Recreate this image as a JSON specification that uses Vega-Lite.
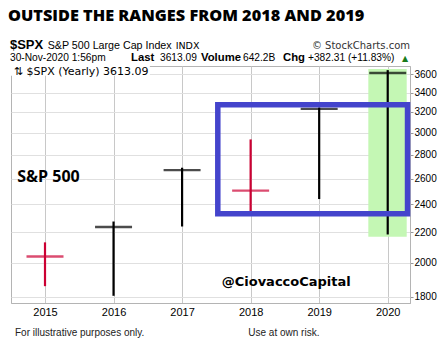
{
  "$schema": "https://vega.github.io/schema/vega-lite/v6.json",
  "width": 399,
  "height": 237,
  "autosize": "none",
  "padding": {"left": 11, "top": 66, "right": 37, "bottom": 40},
  "background": "white",
  "config": {
    "view": {"stroke": "#b4b4b4", "strokeWidth": 1},
    "font": "Liberation Sans"
  },
  "title": {
    "text": "OUTSIDE THE RANGES FROM 2018 AND 2019",
    "anchor": "start",
    "frame": "group",
    "font": "Open Sans",
    "fontWeight": 800,
    "fontSize": 16.3,
    "color": "#000000",
    "baseline": "alphabetic",
    "offset": 2,
    "dx": -3
  },
  "datasets": {
    "candles": [
      {"year": 2015, "open": 2058.9, "high": 2132, "low": 1860, "close": 2040},
      {"year": 2016, "open": 2038.2, "high": 2275, "low": 1805, "close": 2236},
      {"year": 2017, "open": 2251.6, "high": 2690, "low": 2240, "close": 2670},
      {"year": 2018, "open": 2683.7, "high": 2938, "low": 2346, "close": 2505},
      {"year": 2019, "open": 2477.0, "high": 3245, "low": 2440, "close": 3231},
      {"year": 2020, "open": 3244.7, "high": 3646, "low": 2185, "close": 3613}
    ]
  },
  "layer": [
    {
      "data": {"values": [{"year": 2019.717, "year2": 2020.277, "low": 2170, "high": 3659}]},
      "mark": {"type": "rect", "fill": "#c4f7b4", "stroke": null},
      "encoding": {
        "x": {"field": "year", "type": "quantitative", "scale": {"domain": [2014.504, 2020.325], "nice": false, "zero": false},
          "axis": {"values": [2015, 2016, 2017, 2018, 2019, 2020], "format": "d", "title": null, "labelFontSize": 11, "labelColor": "#000000", "labelFont": "Liberation Sans", "gridColor": "#c8c8c8", "ticks": false, "domainColor": "#b4b4b4", "labelPadding": 3}},
        "x2": {"field": "year2"},
        "y": {"field": "low", "type": "quantitative", "scale": {"type": "log", "domain": [1765, 3693], "nice": false, "zero": false},
          "axis": {"orient": "right", "values": [1800, 2000, 2200, 2400, 2600, 2800, 3000, 3200, 3400, 3600], "format": "d", "title": null, "labelFontSize": 10, "labelColor": "#000000", "labelFont": "Liberation Sans", "gridColor": "#e0e0e0", "tickColor": "#999999", "tickSize": 3, "domainColor": "#b4b4b4", "labelPadding": 1}},
        "y2": {"field": "high"}
      }
    },
    {
      "data": {"values": [{"year": 2014.504, "year2": 2016.53, "low": 3582, "high": 3693}]},
      "mark": {"type": "rect", "fill": "white"},
      "encoding": {
        "x": {"field": "year", "type": "quantitative"},
        "x2": {"field": "year2"},
        "y": {"field": "low", "type": "quantitative"},
        "y2": {"field": "high"}
      }
    },
    {
      "data": {"name": "candles"},
      "mark": {"type": "rule", "strokeWidth": 2.2},
      "encoding": {
        "x": {"field": "year", "type": "quantitative"},
        "y": {"field": "low", "type": "quantitative"},
        "y2": {"field": "high"},
        "color": {"condition": {"test": "datum.close < datum.open", "value": "#cc0033"}, "value": "#000000"}
      }
    },
    {
      "data": {"name": "candles"},
      "mark": {"type": "tick", "orient": "horizontal", "size": 37, "thickness": 2.4},
      "encoding": {
        "x": {"field": "year", "type": "quantitative"},
        "y": {"field": "close", "type": "quantitative"},
        "color": {"condition": {"test": "datum.close < datum.open", "value": "#cc0033"}, "value": "#000000"}
      }
    },
    {
      "data": {"values": [{"year": 2017.521, "year2": 2020.289, "low": 2331, "high": 3274}]},
      "mark": {"type": "rect", "fill": null, "filled": false, "stroke": "#4444cc", "strokeWidth": 5.5},
      "encoding": {
        "x": {"field": "year", "type": "quantitative"},
        "x2": {"field": "year2"},
        "y": {"field": "low", "type": "quantitative"},
        "y2": {"field": "high"}
      }
    },
    {
      "data": {"values": [
        {"label": "S&P 500 Large Cap Index", "year": 2015.039, "value": 3894}
      ]},
      "mark": {"type": "text", "align": "left", "baseline": "alphabetic", "font": "Liberation Sans", "fontSize": 10.7, "color": "#000000", "clip": false},
      "encoding": {
        "x": {"field": "year", "type": "quantitative"},
        "y": {"field": "value", "type": "quantitative"},
        "text": {"field": "label"}
      }
    },
    {
      "data": {"values": [
        {"label": "30-Nov-2020 1:56pm", "year": 2014.489, "value": 3751},
        {"label": "3613.09", "year": 2016.678, "value": 3751},
        {"label": "642.2B", "year": 2017.889, "value": 3751},
        {"label": "+382.31 (+11.83%)", "year": 2018.837, "value": 3751}
      ]},
      "mark": {"type": "text", "align": "left", "baseline": "alphabetic", "font": "Liberation Sans", "fontSize": 10.2, "color": "#000000", "clip": false},
      "encoding": {
        "x": {"field": "year", "type": "quantitative"},
        "y": {"field": "value", "type": "quantitative"},
        "text": {"field": "label"}
      }
    },
    {
      "data": {"values": [
        {"label": "Last", "year": 2016.255, "value": 3751},
        {"label": "Volume", "year": 2017.276, "value": 3751},
        {"label": "Chg", "year": 2018.472, "value": 3751}
      ]},
      "mark": {"type": "text", "align": "left", "baseline": "alphabetic", "font": "Liberation Sans", "fontWeight": "bold", "fontSize": 11.3, "color": "#000000", "clip": false},
      "encoding": {
        "x": {"field": "year", "type": "quantitative"},
        "y": {"field": "value", "type": "quantitative"},
        "text": {"field": "label"}
      }
    },
    {
      "data": {"values": [{"label": "$SPX", "year": 2014.489, "value": 3894}]},
      "mark": {"type": "text", "align": "left", "baseline": "alphabetic", "font": "Liberation Sans", "fontWeight": "bold", "fontSize": 13, "color": "#000000", "clip": false},
      "encoding": {
        "x": {"field": "year", "type": "quantitative"},
        "y": {"field": "value", "type": "quantitative"},
        "text": {"field": "label"}
      }
    },
    {
      "data": {"values": [{"label": "INDX", "year": 2016.907, "value": 3894}]},
      "mark": {"type": "text", "align": "left", "baseline": "alphabetic", "font": "DejaVu Sans", "fontSize": 9.5, "color": "#000000", "clip": false},
      "encoding": {
        "x": {"field": "year", "type": "quantitative"},
        "y": {"field": "value", "type": "quantitative"},
        "text": {"field": "label"}
      }
    },
    {
      "data": {"values": [{"label": "© StockCharts.com", "year": 2020.325, "value": 3894}]},
      "mark": {"type": "text", "align": "right", "baseline": "alphabetic", "font": "DejaVu Sans", "fontSize": 10, "color": "#333333", "clip": false},
      "encoding": {
        "x": {"field": "year", "type": "quantitative"},
        "y": {"field": "value", "type": "quantitative"},
        "text": {"field": "label"}
      }
    },
    {
      "data": {"values": [{"label": "▲", "year": 2020.209, "value": 3751}]},
      "mark": {"type": "text", "align": "left", "baseline": "alphabetic", "font": "DejaVu Sans", "fontSize": 8, "color": "#1a7a1a", "clip": false},
      "encoding": {
        "x": {"field": "year", "type": "quantitative"},
        "y": {"field": "value", "type": "quantitative"},
        "text": {"field": "label"}
      }
    },
    {
      "data": {"values": [{"label": "⇅ $SPX (Yearly) 3613.09", "year": 2014.545, "value": 3591}]},
      "mark": {"type": "text", "align": "left", "baseline": "alphabetic", "font": "DejaVu Sans", "fontSize": 11, "color": "#000000", "clip": false},
      "encoding": {
        "x": {"field": "year", "type": "quantitative"},
        "y": {"field": "value", "type": "quantitative"},
        "text": {"field": "label"}
      }
    },
    {
      "data": {"values": [{"label": "S&P 500", "year": 2014.596, "value": 2575}]},
      "mark": {"type": "text", "align": "left", "baseline": "alphabetic", "font": "Open Sans", "fontWeight": "bold", "fontSize": 16, "color": "#000000", "clip": false},
      "encoding": {
        "x": {"field": "year", "type": "quantitative"},
        "y": {"field": "value", "type": "quantitative"},
        "text": {"field": "label"}
      }
    },
    {
      "data": {"values": [{"label": "@CiovaccoCapital", "year": 2017.578, "value": 1861}]},
      "mark": {"type": "text", "align": "left", "baseline": "alphabetic", "font": "DejaVu Sans", "fontWeight": "bold", "fontSize": 13, "color": "#000000", "clip": false},
      "encoding": {
        "x": {"field": "year", "type": "quantitative"},
        "y": {"field": "value", "type": "quantitative"},
        "text": {"field": "label"}
      }
    },
    {
      "data": {"values": [
        {"label": "For illustrative purposes only.", "year": 2014.562, "value": 1594},
        {"label": "Use at own risk.", "year": 2017.966, "value": 1594}
      ]},
      "mark": {"type": "text", "align": "left", "baseline": "alphabetic", "font": "Liberation Sans", "fontSize": 10, "color": "#222222", "clip": false},
      "encoding": {
        "x": {"field": "year", "type": "quantitative"},
        "y": {"field": "value", "type": "quantitative"},
        "text": {"field": "label"}
      }
    }
  ]
}
